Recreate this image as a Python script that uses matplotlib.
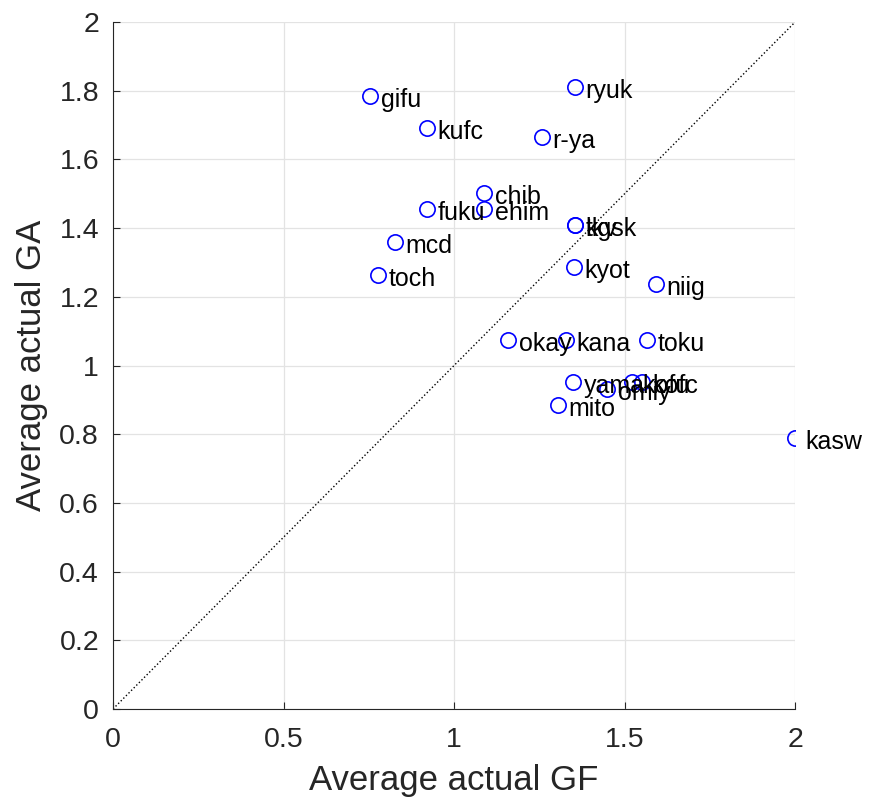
import numpy as np
import matplotlib
matplotlib.use('Agg')
import matplotlib.pyplot as plt

plt.rcParams['font.family'] = ['Liberation Sans', 'DejaVu Sans']

teams = ['gifu', 'kufc', 'ryuk', 'r-ya', 'chib', 'ehim', 'fuku', 'mcd', 'toch',
         'tkv', 'kgsk', 'kyot', 'niig', 'okay', 'kana', 'toku', 'yama', 'omiy',
         'kofu', 'kofc', 'mito', 'kasw']
gf = [0.754, 0.921, 1.355, 1.258, 1.088, 1.088, 0.921, 0.827, 0.777,
      1.355, 1.355, 1.352, 1.592, 1.158, 1.328, 1.566, 1.349, 1.449,
      1.522, 1.551, 1.305, 2.0]
ga = [1.785, 1.691, 1.811, 1.665, 1.502, 1.455, 1.455, 1.360, 1.263,
      1.409, 1.409, 1.287, 1.237, 1.074, 1.074, 1.074, 0.952, 0.931,
      0.952, 0.952, 0.885, 0.789]

fig = plt.figure(figsize=(8.69, 8.09), dpi=100)
ax = fig.add_axes([0.130, 0.1236, 0.785, 0.8492])

ax.plot([0, 2], [0, 2], 'k:', linewidth=1)
ax.plot(gf, ga, 'o', markersize=11, markerfacecolor='none',
        markeredgecolor='b', markeredgewidth=1.2)
for name, x, y in zip(teams, gf, ga):
    ax.text(x + 0.031, y - 0.012, name, fontsize=18, va='center', ha='left')

ax.set_xlim(0, 2)
ax.set_ylim(0, 2)
ax.set_xticks([0, 0.5, 1, 1.5, 2])
ax.set_xticklabels(['0', '0.5', '1', '1.5', '2'])
ax.set_yticks(np.arange(0, 2.01, 0.2))
ax.set_yticklabels(['0', '0.2', '0.4', '0.6', '0.8', '1', '1.2', '1.4', '1.6', '1.8', '2'])
ax.grid(True, color='#e3e3e3', linewidth=0.9)
ax.set_axisbelow(True)
for s in ['top', 'right']:
    ax.spines[s].set_visible(False)
for s in ['left', 'bottom']:
    ax.spines[s].set_color('#262626')
ax.tick_params(direction='in', labelsize=20.5, colors='#262626', length=5)
ax.tick_params(axis='x', pad=13)
ax.tick_params(axis='y', pad=10)
ax.set_xlabel('Average actual GF', fontsize=25, color='#262626', labelpad=8)
ax.set_ylabel('Average actual GA', fontsize=25, color='#262626', labelpad=8)

fig.savefig('out.png', dpi=100)
